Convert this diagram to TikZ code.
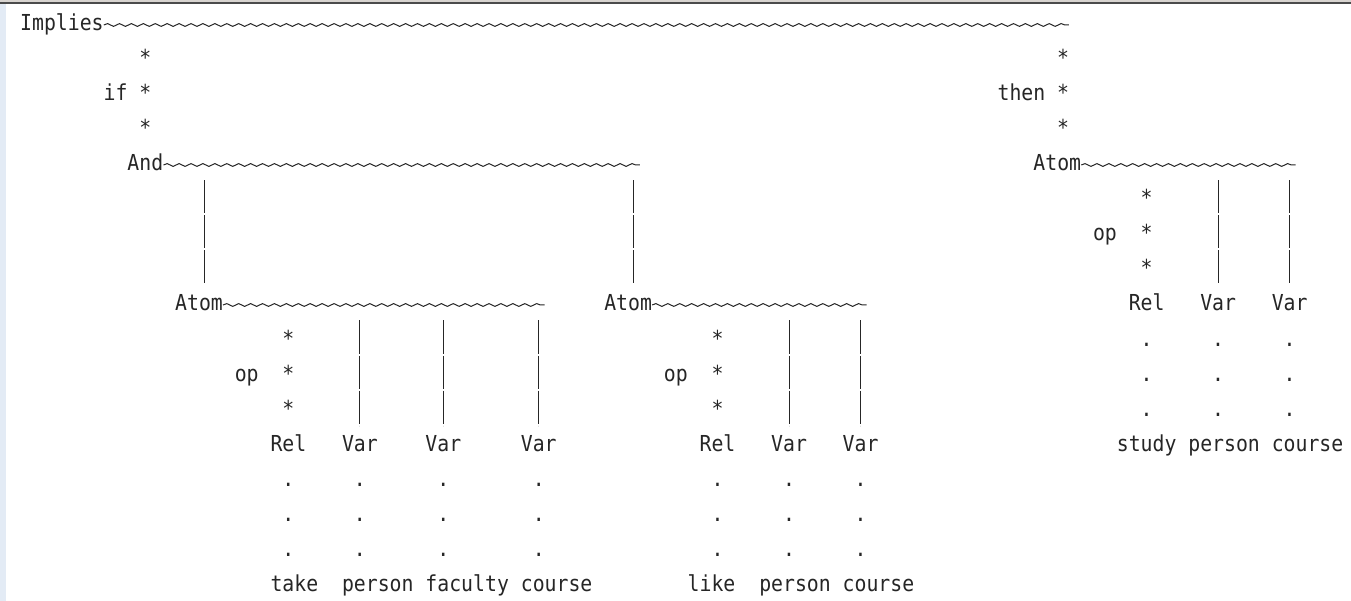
\documentclass[tikz,border=0pt]{standalone}
\usepackage{fontspec}
\newfontfamily\treefont[FakeStretch=0.9]{DejaVu Sans Mono}
\usetikzlibrary{calc,decorations.pathmorphing}

\definecolor{ink}{HTML}{262626}
\definecolor{topgray}{HTML}{D8D4D0}
\definecolor{topdark}{HTML}{4B4B4B}
\definecolor{leftblue}{HTML}{E3EBF5}

% character cell width of the tree font
\def\cw{11.92}

\tikzset{
  lbl/.style={font=\treefont\fontsize{22pt}{22pt}\selectfont, text=ink,
    inner sep=0pt, text height=16pt, text depth=0pt, anchor=west},
  mk/.style={lbl, anchor=center},
  wig/.style={draw=ink, line width=1pt, decorate,
    decoration={snake, amplitude=1.4pt, segment length=11.92pt}},
  bar/.style={draw=ink, line width=1.1pt, shorten <=17.5pt, shorten >=17.5pt,
    dash pattern=on 33pt off 2pt},
}

\begin{document}
\begin{tikzpicture}[x=1pt,y=-1pt]
\useasboundingbox (0,0) rectangle (1351,601);
\fill[white] (0,0) rectangle (1351,601);
\fill[topgray] (0,0) rectangle (1351,2.5);
\fill[topdark] (0,2.5) rectangle (1351,4.5);
\fill[leftblue] (0,4.5) rectangle (6,601);

% ---- labels (column c sits at x = 20 + c*cw, rows 35 apart) ----
\node[lbl] (implies) at ({20+0*\cw},23)  {Implies};
\node[lbl] (if)      at ({20+7*\cw},93)  {if};
\node[lbl] (then)    at ({20+82*\cw},93) {then};
\node[lbl] (and)     at ({20+9*\cw},163) {And};
\node[lbl] (atomR)   at ({20+85*\cw},163) {Atom};
\node[lbl] (opR)     at ({20+90*\cw},233) {op};
\node[lbl] (atom1)   at ({20+13*\cw},303) {Atom};
\node[lbl] (atom2)   at ({20+49*\cw},303) {Atom};
\node[lbl] (relR)    at ({20+93*\cw},303) {Rel};
\node[lbl] (vRa)     at ({20+99*\cw},303) {Var};
\node[lbl] (vRb)     at ({20+105*\cw},303) {Var};
\node[lbl] (op1)     at ({20+18*\cw},373) {op};
\node[lbl] (op2)     at ({20+54*\cw},373) {op};
\node[lbl] (rel1)    at ({20+21*\cw},443) {Rel};
\node[lbl] (v1a)     at ({20+27*\cw},443) {Var};
\node[lbl] (v1b)     at ({20+34*\cw},443) {Var};
\node[lbl] (v1c)     at ({20+42*\cw},443) {Var};
\node[lbl] (rel2)    at ({20+57*\cw},443) {Rel};
\node[lbl] (v2a)     at ({20+63*\cw},443) {Var};
\node[lbl] (v2b)     at ({20+69*\cw},443) {Var};
\node[lbl] (study)   at ({20+92*\cw},443) {study};
\node[lbl] (personR) at ({20+98*\cw},443) {person};
\node[lbl] (courseR) at ({20+105*\cw},443) {course};
\node[lbl] (take)    at ({20+21*\cw},583) {take};
\node[lbl] (person1) at ({20+27*\cw},583) {person};
\node[lbl] (faculty) at ({20+34*\cw},583) {faculty};
\node[lbl] (course1) at ({20+42*\cw},583) {course};
\node[lbl] (like)    at ({20+56*\cw},583) {like};
\node[lbl] (person2) at ({20+62*\cw},583) {person};
\node[lbl] (course2) at ({20+69*\cw},583) {course};

% drop columns of the Atom nodes (above their third letter)
\coordinate (cR) at ($(atomR.west)+({2.5*\cw},0)$);
\coordinate (c1) at ($(atom1.west)+({2.5*\cw},0)$);
\coordinate (c2) at ($(atom2.west)+({2.5*\cw},0)$);

% ---- horizontal child bars ----
\draw[wig] ($(implies.east)+(0,2)$) -- ($(implies.east -| cR)+({\cw/2},2)$);
\draw[wig] ($(and.east)+(0,2)$) -- ($(and.east -| c2)+({\cw/2},2)$);
\draw[wig] ($(atom1.east)+(0,2)$) -- ($(atom1.east -| v1c.center)+({\cw/2},2)$);
\draw[wig] ($(atom2.east)+(0,2)$) -- ($(atom2.east -| v2b.center)+({\cw/2},2)$);
\draw[wig] ($(atomR.east)+(0,2)$) -- ($(atomR.east -| vRb.center)+({\cw/2},2)$);

% ---- starred edges (if / then / op) ----
\path (implies.center -| and.center) -- (and.center)
  node[mk,pos=.25]{*} node[mk,pos=.5]{*} node[mk,pos=.75]{*};
\path (implies.center -| cR) -- (cR)
  node[mk,pos=.25]{*} node[mk,pos=.5]{*} node[mk,pos=.75]{*};
\path (atom1.center -| rel1.center) -- (rel1.center)
  node[mk,pos=.25]{*} node[mk,pos=.5]{*} node[mk,pos=.75]{*};
\path (atom2.center -| rel2.center) -- (rel2.center)
  node[mk,pos=.25]{*} node[mk,pos=.5]{*} node[mk,pos=.75]{*};
\path (atomR.center -| relR.center) -- (relR.center)
  node[mk,pos=.25]{*} node[mk,pos=.5]{*} node[mk,pos=.75]{*};

% ---- plain edges ----
\draw[bar] (and.center -| c1) -- (c1);
\draw[bar] (and.center -| c2) -- (c2);
\foreach \v in {v1a,v1b,v1c} \draw[bar] (atom1.center -| \v.center) -- (\v.center);
\foreach \v in {v2a,v2b} \draw[bar] (atom2.center -| \v.center) -- (\v.center);
\foreach \v in {vRa,vRb} \draw[bar] (atomR.center -| \v.center) -- (\v.center);

% ---- dotted edges to the values ----
\foreach \a/\b in {rel1/take,v1a/person1,v1b/faculty,v1c/course1,
                   rel2/like,v2a/person2,v2b/course2,
                   relR/study,vRa/personR,vRb/courseR}
  \path (\a.center) -- (\a.center |- \b.center)
    node[mk,pos=.25]{.} node[mk,pos=.5]{.} node[mk,pos=.75]{.};
\end{tikzpicture}
\end{document}
